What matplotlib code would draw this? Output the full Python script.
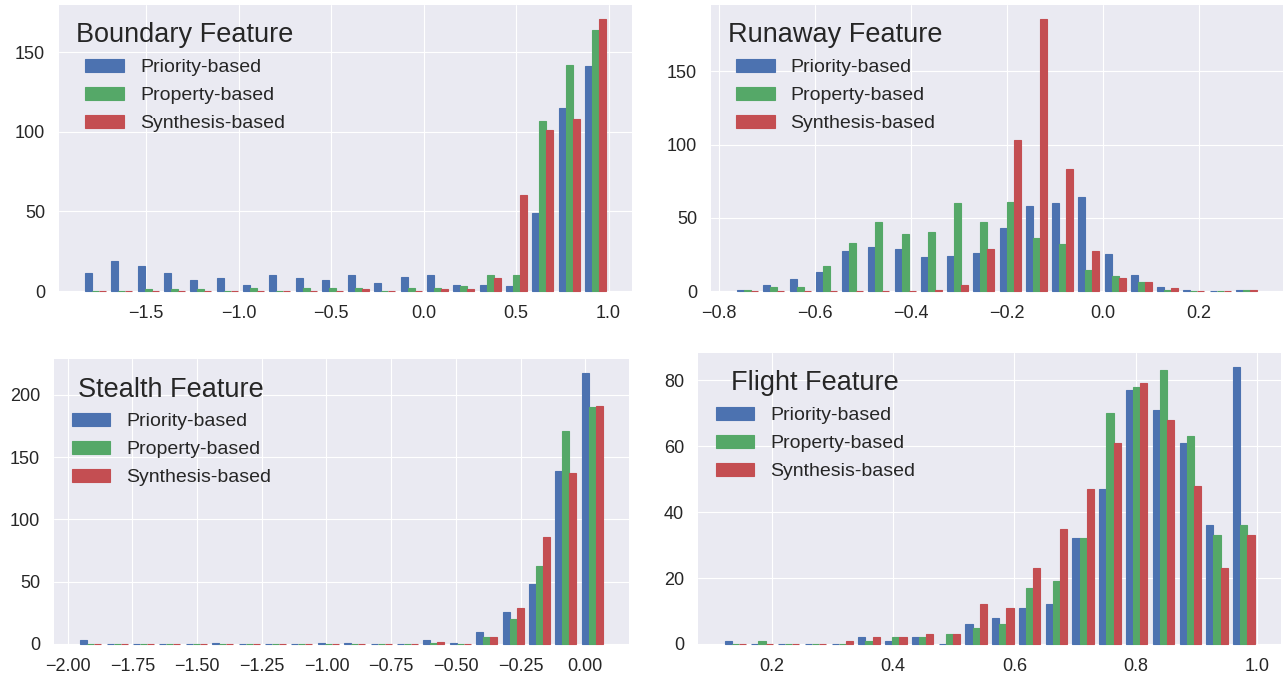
"""Grouped histograms of four feature scores for three query strategies."""

import numpy as np
import matplotlib
matplotlib.use("Agg")
from matplotlib import pyplot as plt
from matplotlib.ticker import MultipleLocator

LABELS = ["Priority-based", "Property-based", "Synthesis-based"]
COLORS = ["#4C72B0", "#55A868", "#C44E52"]

# counts per bin (20 bins)
boundary_range = (-1.844, 1.0)
boundary_priority = [11, 19, 16, 11, 7, 8, 4, 10, 8, 7, 10, 5, 9, 10, 4, 4, 3, 49, 115, 141]
boundary_property = [0, 0, 1, 1, 1, 0, 2, 0, 2, 2, 2, 0, 2, 2, 3, 10, 10, 107, 142, 164]
boundary_synthesis = [0, 0, 0, 0, 0, 0, 0, 0, 0, 0, 1, 0, 0, 1, 1, 8, 60, 101, 108, 171]

runaway_range = (-0.768, 0.326)
runaway_priority = [1, 4, 8, 13, 27, 30, 29, 23, 24, 26, 43, 58, 60, 64, 25, 11, 3, 1, 0, 1]
runaway_property = [1, 3, 3, 17, 33, 47, 39, 40, 60, 47, 61, 36, 32, 14, 10, 6, 1, 0, 0, 1]
runaway_synthesis = [0, 0, 0, 0, 0, 0, 0, 1, 4, 29, 103, 186, 83, 27, 9, 6, 2, 0, 0, 1]

stealth_range = (-1.962, 0.078)
stealth_priority = [3, 0, 0, 0, 0, 1, 0, 0, 0, 1, 1, 0, 0, 3, 1, 10, 26, 48, 139, 218]
stealth_property = [0, 0, 0, 0, 0, 0, 0, 0, 0, 0, 0, 0, 0, 1, 0, 6, 20, 63, 171, 190]
stealth_synthesis = [0, 0, 0, 0, 0, 0, 0, 0, 0, 0, 0, 0, 0, 2, 0, 6, 29, 86, 137, 191]

flight_range = (0.118, 1.0)
flight_priority = [1, 0, 0, 0, 0, 2, 1, 2, 0, 6, 8, 11, 12, 32, 47, 77, 71, 61, 36, 84]
flight_property = [0, 1, 0, 0, 0, 1, 2, 2, 3, 5, 6, 17, 19, 32, 70, 78, 83, 63, 33, 36]
flight_synthesis = [0, 0, 0, 0, 1, 2, 2, 3, 3, 12, 11, 23, 35, 47, 61, 79, 68, 48, 23, 33]

W, H = 1286, 681


def px_axes(fig, left, top, right, bottom):
    return fig.add_axes([left / W, 1 - bottom / H, (right - left) / W, (bottom - top) / H])


def draw(ax, title, rng, counts, xstep, ystep):
    edges = np.linspace(rng[0], rng[1], len(counts[0]) + 1)
    centers = 0.5 * (edges[:-1] + edges[1:])
    _, _, containers = ax.hist(
        [centers] * 3, bins=edges, weights=counts, color=COLORS, label=LABELS
    )
    # thin edge in the bar colour, so empty bins still show as a line
    for cont, col in zip(containers, COLORS):
        for patch in cont:
            patch.set_edgecolor(col)
            patch.set_linewidth(0.8)
            patch.set_clip_on(False)
    ax.xaxis.set_major_locator(MultipleLocator(xstep))
    ax.yaxis.set_major_locator(MultipleLocator(ystep))
    ax.tick_params(labelsize=13)
    ax.tick_params(axis="x", pad=10)
    ax.tick_params(axis="y", pad=10)
    ax.legend(
        loc="upper left",
        title=title,
        fontsize=14,
        title_fontsize=19.5,
        frameon=False,
        labelspacing=0.53,
    )


def main():
    plt.style.use("seaborn-v0_8-darkgrid")
    plt.rcParams["font.family"] = ["Liberation Sans", "DejaVu Sans"]
    fig = plt.figure(figsize=(W / 100, H / 100), dpi=100)

    ax1 = px_axes(fig, 59, 5, 632, 291)
    draw(ax1, "Boundary Feature", boundary_range,
         [boundary_priority, boundary_property, boundary_synthesis], 0.5, 50)

    ax2 = px_axes(fig, 711, 5, 1283, 291)
    draw(ax2, "Runaway Feature", runaway_range,
         [runaway_priority, runaway_property, runaway_synthesis], 0.2, 50)

    ax3 = px_axes(fig, 54, 359, 629, 644)
    draw(ax3, "Stealth Feature", stealth_range,
         [stealth_priority, stealth_property, stealth_synthesis], 0.25, 50)

    ax4 = px_axes(fig, 698, 353, 1281, 644)
    draw(ax4, "Flight Feature", flight_range,
         [flight_priority, flight_property, flight_synthesis], 0.2, 20)

    fig.savefig("out.png", dpi=100)


if __name__ == "__main__":
    main()
